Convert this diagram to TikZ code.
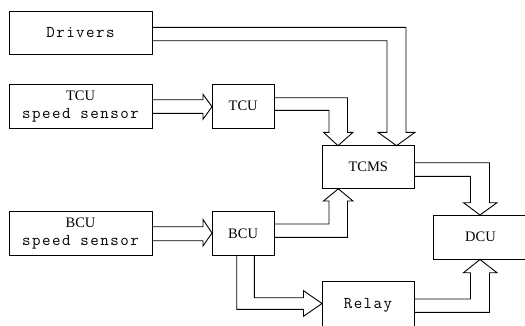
\documentclass[tikz,border=0pt]{standalone}
\usepackage{fontspec}
\setmainfont{Liberation Serif}
\newfontfamily\monofam[LetterSpace=9]{Latin Modern Mono}
\newcommand\monof{\monofam\fontsize{16.5}{19}\selectfont}
\begin{document}
\begin{tikzpicture}[x=1pt,y=-1pt,
  box/.style={draw=black, line width=0.9pt, inner sep=0pt, outer sep=0pt, anchor=north west, align=center, font=\fontsize{14.5}{19}\selectfont},
  conn/.style={draw=black, line width=0.9pt, line join=miter}]
\useasboundingbox (0,0) rectangle (525,325);
\clip (0,0) rectangle (525,325);
% boxes
\node[box, minimum width=143pt, minimum height=43pt] (Drivers) at (9,11) {\monof Drivers};
\node[box, minimum width=143pt, minimum height=43.7pt] (TCUs) at (9,84.3) {TCU\\[-1pt]{\monof speed sensor}};
\node[box, minimum width=62.3pt, minimum height=43.7pt] (TCU) at (212,84.3) {TCU};
\node[box, minimum width=91.5pt, minimum height=43.1pt] (TCMS) at (322.5,145.7) {TCMS};
\node[box, minimum width=143pt, minimum height=43.3pt] (BCUs) at (9,211.7) {BCU\\[-1pt]{\monof speed sensor}};
\node[box, minimum width=62.3pt, minimum height=43.3pt] (BCU) at (212,211.7) {BCU};
\node[box, minimum width=95pt, minimum height=44.5pt] (DCU) at (433,215) {DCU};
\node[box, minimum width=92pt, minimum height=46.3pt] (Relay) at (322,281.7) {\monof Relay};
% Drivers -> TCMS
\draw[conn] (Drivers.east |- 0,27.3) -- (406,27.3) -- (406,132.3) -- (415,132.3)
  -- (TCMS.north -| 396.5,0) -- (378,132.3) -- (387,132.3) -- (387,40.7) -- (Drivers.east |- 0,40.7);
% TCU sensor -> TCU
\draw[conn] (TCUs.east |- 0,99.7) -- (203,99.7) -- (203,94.3)
  -- (TCU.west |- 0,106.7) -- (203,119.3) -- (203,113.3) -- (TCUs.east |- 0,113.3);
% TCU -> TCMS
\draw[conn] (TCU.east |- 0,97.7) -- (347.5,97.7) -- (347.5,132.3) -- (353,132.3)
  -- (TCMS.north -| 338,0) -- (323.5,132.3) -- (329,132.3) -- (329,110.3) -- (TCU.east |- 0,110.3);
% BCU sensor -> BCU
\draw[conn] (BCUs.east |- 0,226.7) -- (203,226.7) -- (203,219.5)
  -- (BCU.west |- 0,233) -- (203,246) -- (203,240.7) -- (BCUs.east |- 0,240.7);
% BCU -> TCMS
\draw[conn] (BCU.east |- 0,224) -- (329,224) -- (329,201) -- (323.5,201)
  -- (TCMS.south -| 338.3,0) -- (353,201) -- (347.5,201) -- (347.5,237.3) -- (BCU.east |- 0,237.3);
% TCMS -> DCU
\draw[conn] (TCMS.east |- 0,162.7) -- (489.5,162.7) -- (489.5,202.7) -- (497,202.7)
  -- (DCU.north -| 480,0) -- (463.5,202.7) -- (470.5,202.7) -- (470.5,176.3) -- (TCMS.east |- 0,176.3);
% BCU -> Relay
\draw[conn] (BCU.south -| 254.3,0) -- (254.3,297.7) -- (303.5,297.7) -- (303.5,290.7)
  -- (Relay.west |- 0,303.5) -- (303.5,316.3) -- (303.5,309.3) -- (236.7,309.3) -- (BCU.south -| 236.7,0);
% Relay -> DCU
\draw[conn] (Relay.east |- 0,299) -- (470.5,299) -- (470.5,272.7) -- (463.5,272.7)
  -- (DCU.south -| 480,0) -- (497,272.7) -- (489.5,272.7) -- (489.5,312.3) -- (Relay.east |- 0,312.3);
\end{tikzpicture}
\end{document}
